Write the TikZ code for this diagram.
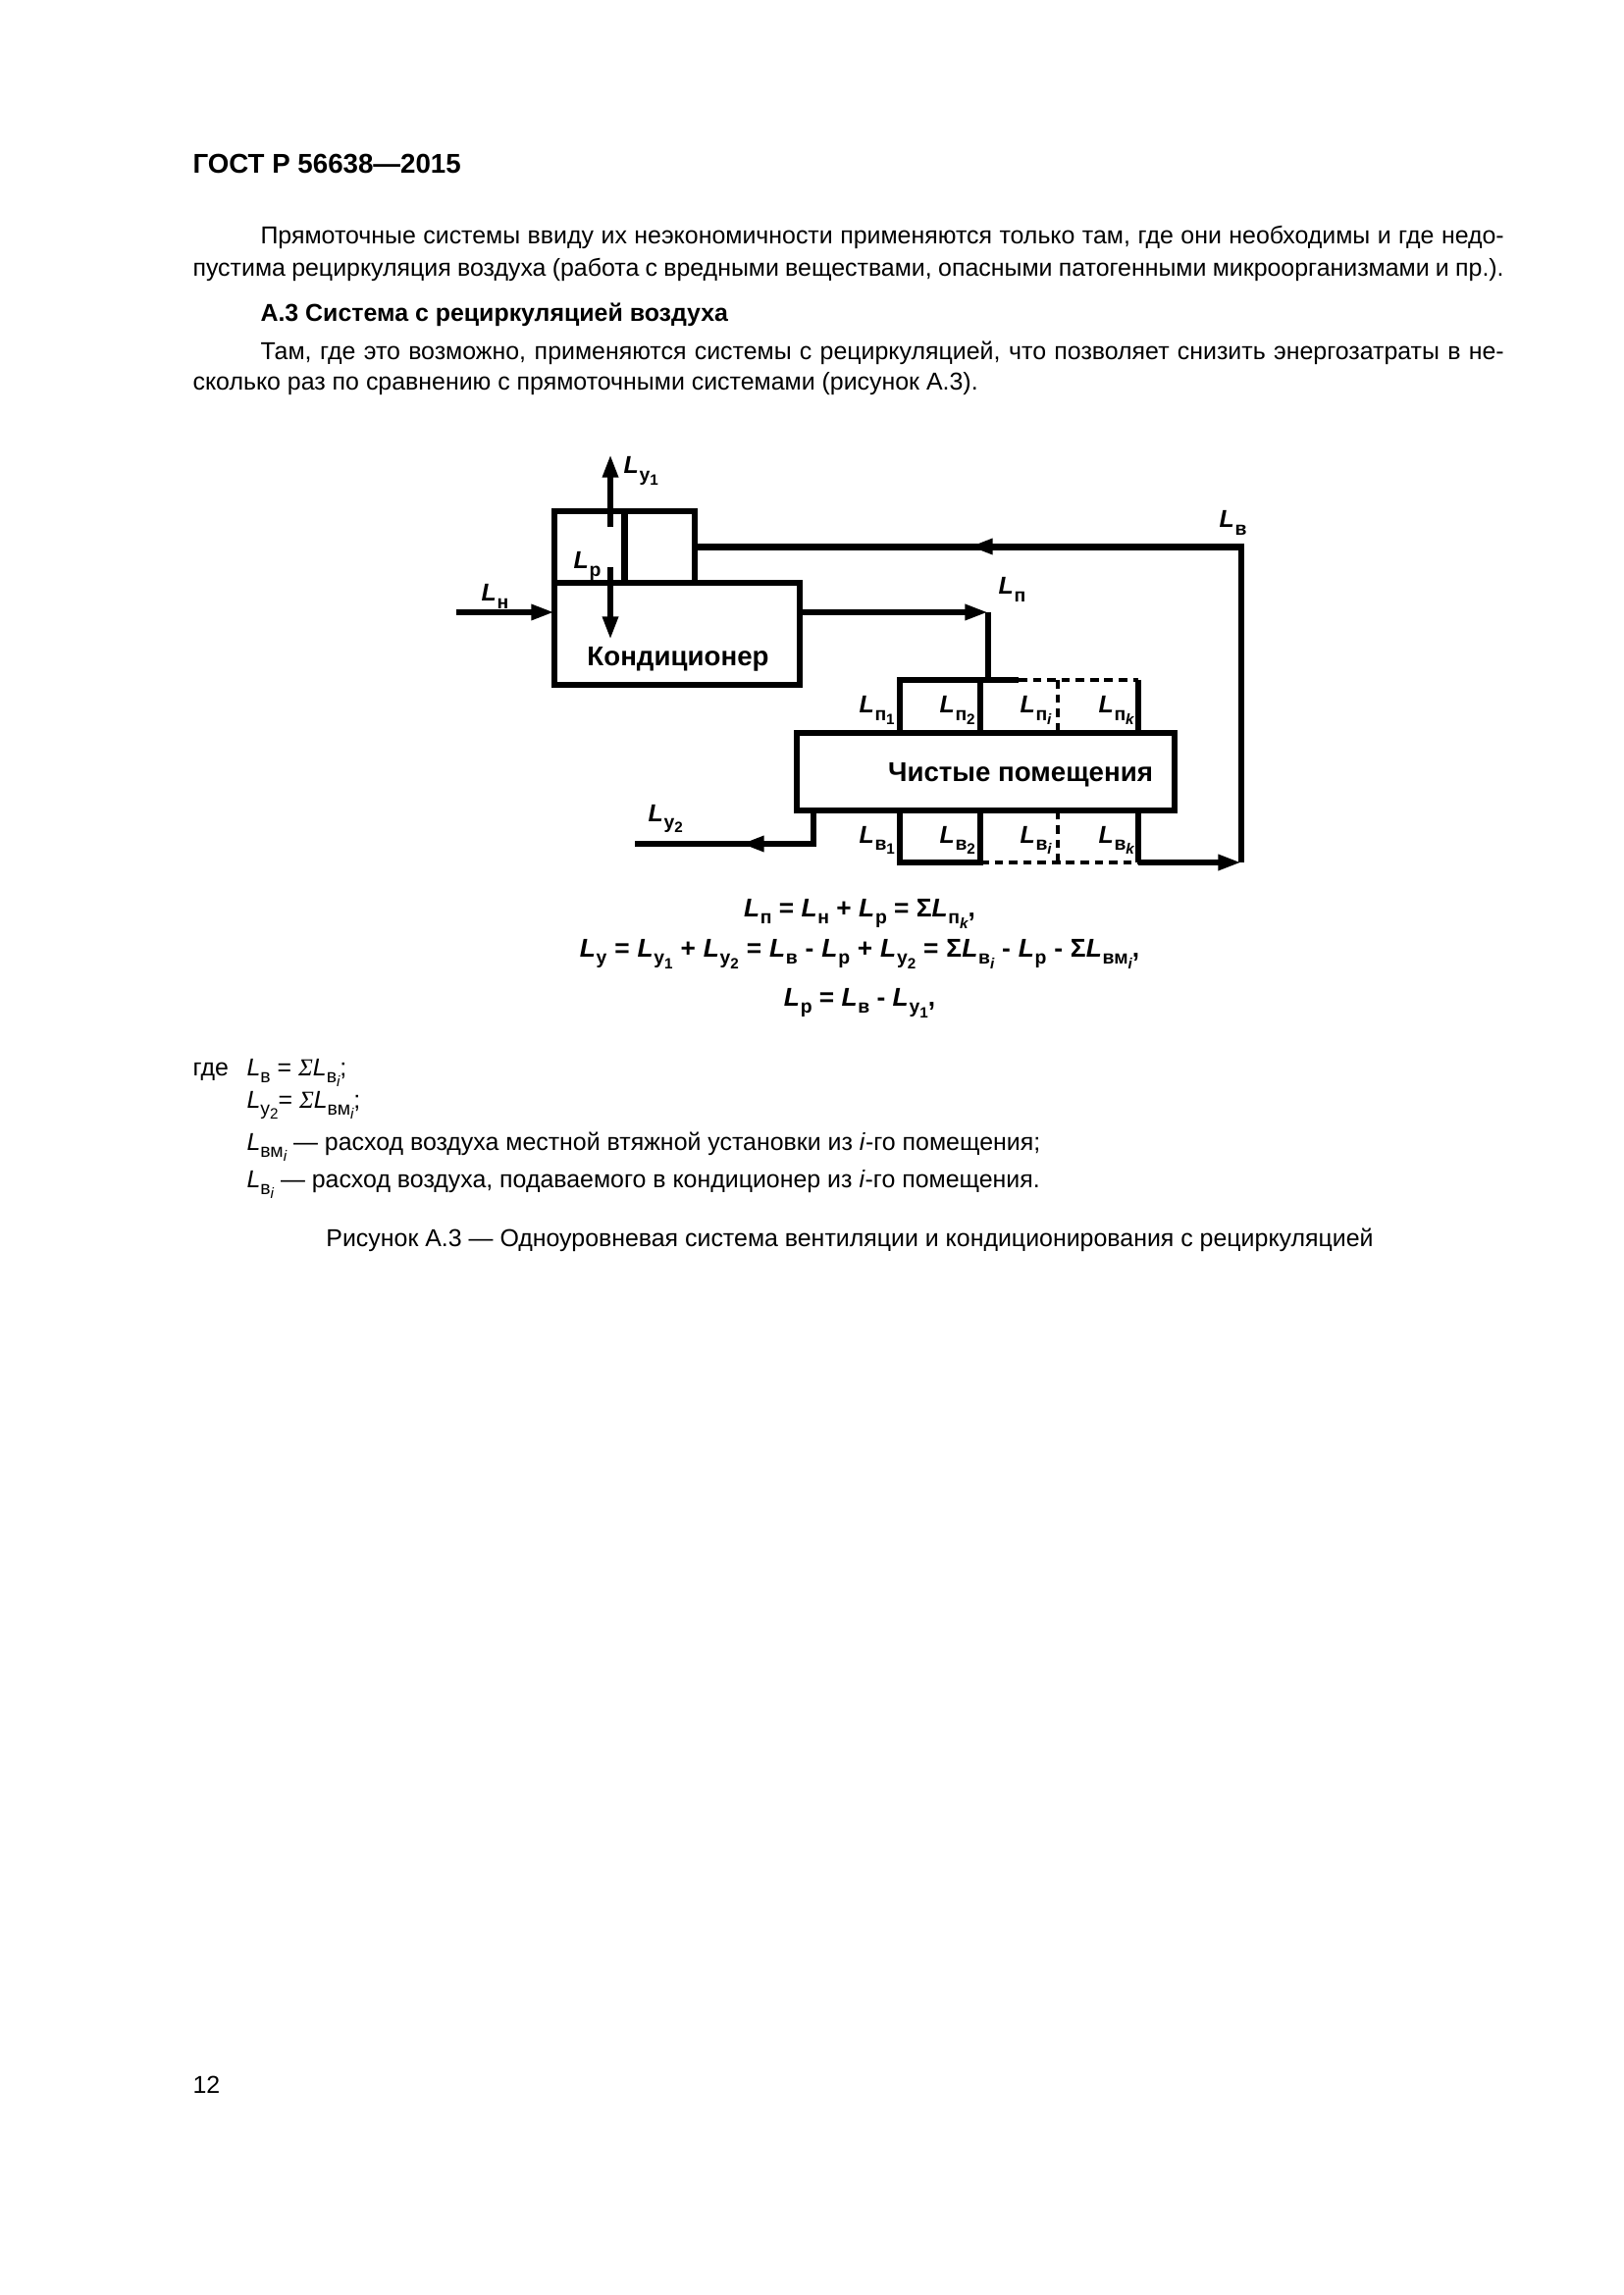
\documentclass[tikz,border=0pt]{standalone}
\usepackage{fontspec}
\setmainfont{Liberation Sans}
\newfontfamily\sigmafont{Liberation Serif}
\usetikzlibrary{arrows.meta,positioning,calc}

% subscripts: first and second level
\newcommand{\sbs}[1]{\raisebox{-0.55ex}{\fontsize{7}{7}\selectfont #1}}
\newcommand{\sbss}[1]{\raisebox{-0.45ex}{\fontsize{5.5}{5.5}\selectfont #1}}
\newcommand{\Lb}[1]{\textbf{\textit{L}\kern0.03em\sbs{\bfseries #1}}}
\newcommand{\Lr}[1]{\textit{L}\sbs{#1}}
\newcommand{\Sg}{{\sigmafont\itshape Σ}}
\newcommand{\op}[1]{\hspace{0.3em}#1\hspace{0.3em}}

\begin{document}
\begin{tikzpicture}[x=0.12696mm,y=-0.12696mm,
    txt/.style={anchor=base west,inner sep=0pt,font=\fontsize{9}{11}\selectfont},
    lbl/.style={anchor=base west,inner sep=0pt,font=\fontsize{9}{11}\selectfont\bfseries},
    eqn/.style={anchor=base,inner sep=0pt,font=\fontsize{9.5}{11}\selectfont\bfseries},
    box/.style={draw,line width=2.3pt,inner sep=0pt,outer sep=0pt},
    duct/.style={line width=2.3pt},
    flow/.style={line width=2.3pt,-{Triangle[length=3mm,width=1.9mm]}},
    dsh/.style={line width=1.3pt,dash pattern=on 1.1mm off 0.75mm}]
  \useasboundingbox (0,0) rectangle (1654,2339);

  % page text
  \node[txt,font=\fontsize{10}{12}\selectfont\bfseries] (hdr) at (196,177) {ГОСТ Р 56638—2015};
  \node[txt] (p1a) at (265,249) {\makebox[160.86mm][s]{Прямоточные системы ввиду их неэкономичности применяются только там, где они необходимы и где недо-}};
  \node[txt] (p1b) at (196,282) {\makebox[169.6mm][s]{пустима рециркуляция воздуха (работа с вредными веществами, опасными патогенными микроорганизмами и пр.).}};
  \node[txt,font=\fontsize{9}{11}\selectfont\bfseries] (sec) at (265,328) {А.3 Система с рециркуляцией воздуха};
  \node[txt] (p2a) at (265,367) {\makebox[160.86mm][s]{Там, где это возможно, применяются системы с рециркуляцией, что позволяет снизить энергозатраты в не-}};
  \node[txt] (p2b) at (196,398) {сколько раз по сравнению с прямоточными системами (рисунок А.3).};

  % conditioner with recirculation chamber
  \node[box,minimum width=18.16mm,minimum height=9.27mm] (rec) at (636.5,557.5) {};
  \node[box,minimum width=31.75mm,minimum height=13.2mm] (cond) at (690,646) {};
  \draw[duct] (rec.north) -- (rec.south);
  \node[anchor=base,inner sep=0pt,font=\fontsize{10}{12}\selectfont\bfseries] (condtxt) at (691,679) {Кондиционер};

  % clean rooms
  \node[box,minimum width=48.9mm,minimum height=10.03mm] (rooms) at (1004.5,786.5) {};
  \node[anchor=base,inner sep=0pt,font=\fontsize{10}{12}\selectfont\bfseries] (roomtxt) at (1040,796) {Чистые помещения};

  \foreach \n/\x in {1/917,2/999,3/1078,4/1160} {
    \coordinate (t\n) at (\x,693);
    \coordinate (b\n) at (\x,879);
  }
  \coordinate (tsol) at (1038,693);

  % supply cells
  \draw[duct] (tsol) -- (t1) -- (t1 |- rooms.north);
  \draw[duct] (t2) -- (t2 |- rooms.north);
  \draw[duct] (t4) -- (t4 |- rooms.north);
  \draw[dsh] (tsol) -- (t4);
  \draw[dsh] (t3) -- (t3 |- rooms.north);

  % return cells
  \draw[duct] (b1 |- rooms.south) -- (b1) -- (b2) -- (b2 |- rooms.south);
  \draw[dsh] (b2) -- (b4);
  \draw[dsh] (b3) -- (b3 |- rooms.south);
  \draw[duct] (b4 |- rooms.south) -- (b4);

  % outdoor air and exhaust
  \coordinate (nin) at (465,624);
  \draw[flow] (nin) -- (nin -| cond.west);
  \coordinate (y1s) at (622,537);
  \coordinate (y1e) at (622,463);
  \draw[flow] (y1s) -- (y1e);
  \coordinate (ps) at (622,578);
  \coordinate (pe) at (622,652);
  \draw[flow] (ps) -- (pe);

  % supply air
  \coordinate (sup) at (1007,624);
  \draw[flow] (sup -| cond.east) -- (sup);
  \draw[duct] (sup) -- (sup |- t1);

  % return air
  \coordinate (ret) at (1265,879);
  \coordinate (retarr) at (988,557);
  \draw[flow] (b4) -- (ret);
  \draw[duct] (ret) -- (ret |- rec.east) -- (rec.east);
  \draw[flow] ([xshift=3mm]retarr) -- (retarr);

  % local exhaust
  \coordinate (y2a) at (829,860);
  \coordinate (y2e) at (647,860);
  \coordinate (y2arr) at (755,860);
  \draw[duct] (y2a |- rooms.south) -- (y2a) -- (y2e);
  \draw[flow] ([xshift=3mm]y2arr) -- (y2arr);

  % labels
  \node[lbl] (ly1) at (635,483) {\Lb{у\sbss{1}}};
  \node[lbl] (lp) at (584,580) {\Lb{р}};
  \node[lbl] (ln) at (490,613) {\Lb{н}};
  \node[lbl] (lsup) at (1017,606) {\Lb{п}};
  \node[lbl] (lret) at (1242,538) {\Lb{в}};
  \node[lbl] (ly2) at (660,837) {\Lb{у\sbss{2}}};
  \node[lbl] (lp1) at (875,727) {\Lb{п\sbss{1}}};
  \node[lbl] (lp2) at (957,727) {\Lb{п\sbss{2}}};
  \node[lbl] (lpi) at (1039,727) {\Lb{п\sbss{\itshape i}}};
  \node[lbl] (lpk) at (1119,727) {\Lb{п\sbss{\itshape k}}};
  \node[lbl] (lb1) at (875,859) {\Lb{в\sbss{1}}};
  \node[lbl] (lb2) at (957,859) {\Lb{в\sbss{2}}};
  \node[lbl] (lbi) at (1039,859) {\Lb{в\sbss{\itshape i}}};
  \node[lbl] (lbk) at (1119,859) {\Lb{в\sbss{\itshape k}}};

  % balance equations
  \node[eqn] (eq1) at (876,934) {\Lb{п} = \Lb{н} + \Lb{р} = Σ\Lb{п\sbss{\itshape k}},};
  \node[eqn] (eq2) at (876,975) {\Lb{у}\op{=}\Lb{у\sbss{1}}\op{+}\Lb{у\sbss{2}}\op{=}\Lb{в}\op{-}\Lb{р}\op{+}\Lb{у\sbss{2}}\op{=}Σ\Lb{в\sbss{\itshape i}}\op{-}\Lb{р}\op{-}Σ\Lb{вм\sbss{\itshape i}},};
  \node[eqn] (eq3) at (876,1025) {\Lb{р} = \Lb{в} - \Lb{у\sbss{1}},};

  % legend
  \node[txt] (gde) at (196,1096) {где};
  \node[txt] (lg1) at (251,1096) {\Lr{в} = \Sg\Lr{в\sbss{\itshape i}};};
  \node[txt] (lg2) at (251,1129) {\Lr{у\sbss{2}}= \Sg\Lr{вм\sbss{\itshape i}};};
  \node[txt] (lg3) at (251,1172) {\Lr{вм\sbss{\itshape i}} — расход воздуха местной втяжной установки из \textit{i}-го помещения;};
  \node[txt] (lg4) at (251,1210) {\Lr{в\sbss{\itshape i}} — расход воздуха, подаваемого в кондиционер из \textit{i}-го помещения.};

  \node[txt,anchor=base] (cap) at (866,1270) {Рисунок А.3 — Одноуровневая система вентиляции и кондиционирования с рециркуляцией};
  \node[txt] (pg) at (196,2133) {12};
\end{tikzpicture}
\end{document}
